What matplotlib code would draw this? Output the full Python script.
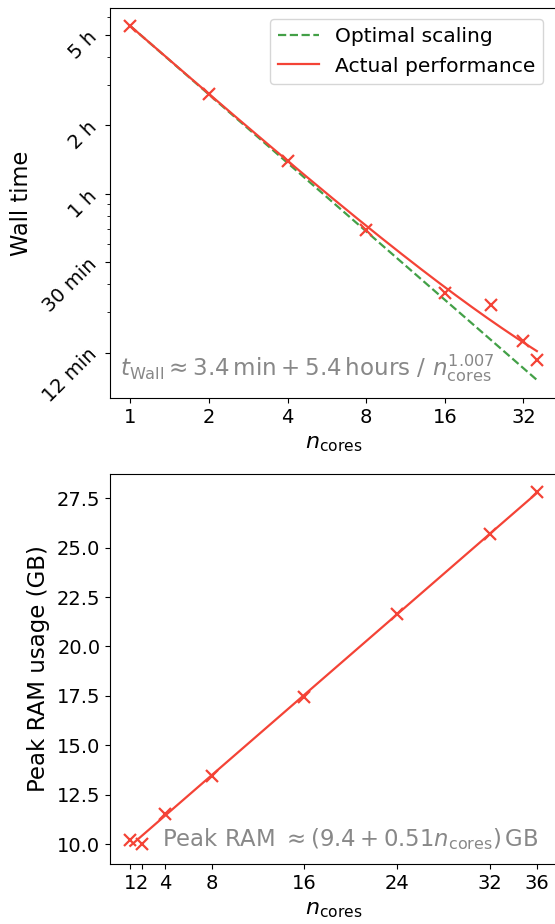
import numpy as np
import matplotlib
matplotlib.use("Agg")
import matplotlib.pyplot as plt
from matplotlib.ticker import FixedLocator, FixedFormatter, NullFormatter, LogLocator

# --- Data ---
cores_time = [1, 2, 4, 8, 16, 24, 32, 36]
wall_hours = [5.46, 2.73, 1.39, 0.689, 0.365, 0.324, 0.224, 0.186]
fit_const_min = 3.4
fit_scale_hours = 5.4
fit_exp = 1.007

cores_ram = [1, 2, 4, 8, 16, 24, 32, 36]
ram_gb = [10.2, 10.02, 11.5, 13.42, 17.46, 21.65, 25.69, 27.8]
ram_icept = 9.4
ram_slope = 0.51

time_ticks = [0.2, 0.5, 1, 2, 5]
time_labels = ["12 min", "30 min", "1 h", "2 h", "5 h"]
x_ticks_top = [1, 2, 4, 8, 16, 32]
x_ticks_bot = [1, 2, 4, 8, 16, 24, 32, 36]

RED = "#f44336"
GREEN = "#43a047"
GRAY = "#888888"

W, H = 555, 924
fig = plt.figure(figsize=(W / 100, H / 100), dpi=100)

def ax_rect(l, t, r, b):
    return [l / W, 1 - b / H, (r - l) / W, (b - t) / H]

# ---------- Top panel ----------
ax1 = fig.add_axes(ax_rect(110, 8, 557, 398))
n = np.linspace(1, 36, 300)
fit = fit_const_min / 60 + fit_scale_hours / n ** fit_exp
t1 = fit_const_min / 60 + fit_scale_hours
ax1.plot(n, t1 / n, "--", color=GREEN, lw=1.6, label="Optimal scaling")
ax1.plot(n, fit, "-", color=RED, lw=1.6, label="Actual performance")
ax1.plot(cores_time, wall_hours, "x", color=RED, ms=8, mew=1.6)
ax1.set_xscale("log")
ax1.set_yscale("log")
ax1.set_xlim(0.836, 43.0)
ax1.set_ylim(0.1262, 6.55)
ax1.xaxis.set_major_locator(FixedLocator(x_ticks_top))
ax1.xaxis.set_major_formatter(FixedFormatter([str(v) for v in x_ticks_top]))
ax1.xaxis.set_minor_locator(FixedLocator([]))
ax1.yaxis.set_major_locator(FixedLocator(time_ticks))
ax1.yaxis.set_major_formatter(FixedFormatter(time_labels))
ax1.yaxis.set_minor_locator(LogLocator(base=10, subs=np.arange(2, 10)))
ax1.yaxis.set_minor_formatter(NullFormatter())
ax1.tick_params(axis="both", which="major", labelsize=14)
for lab in ax1.get_yticklabels():
    lab.set_rotation(45)
ax1.set_ylabel("Wall time", fontsize=16.3, labelpad=4)
ax1.set_xlabel(r"$n_\mathrm{cores}$", fontsize=16, labelpad=5)
ax1.legend(loc="upper right", fontsize=14.6, bbox_to_anchor=(0.992, 0.997))
ax1.text(0.022, 0.035,
         r"$t_\mathrm{Wall} \approx 3.4\,\mathrm{min} + 5.4\,\mathrm{hours}\ /\ n_\mathrm{cores}^{1.007}$",
         transform=ax1.transAxes, color=GRAY, fontsize=16.6, ha="left", va="bottom")

# ---------- Bottom panel ----------
ax2 = fig.add_axes(ax_rect(110, 474, 557, 864))
nr = np.array([1, 36])
ax2.plot(nr, ram_icept + ram_slope * nr, "-", color=RED, lw=1.6)
ax2.plot(cores_ram, ram_gb, "x", color=RED, ms=8, mew=1.6)
ax2.set_xlim(-0.75, 37.75)
ax2.set_ylim(8.99, 28.73)
ax2.set_xticks(x_ticks_bot)
ax2.set_xticklabels([str(v) for v in x_ticks_bot])
ax2.set_yticks([10.0, 12.5, 15.0, 17.5, 20.0, 22.5, 25.0, 27.5])
ax2.set_yticklabels(["10.0", "12.5", "15.0", "17.5", "20.0", "22.5", "25.0", "27.5"])
ax2.tick_params(axis="both", which="major", labelsize=14)
ax2.set_ylabel("Peak RAM usage (GB)", fontsize=16.5, labelpad=5)
ax2.set_xlabel(r"$n_\mathrm{cores}$", fontsize=16, labelpad=5)
ax2.text(0.116, 0.03,
         r"Peak RAM $\approx (9.4 + 0.51 n_\mathrm{cores})\,$GB",
         transform=ax2.transAxes, color=GRAY, fontsize=16.4, ha="left", va="bottom")

fig.savefig("out.png", dpi=100)
